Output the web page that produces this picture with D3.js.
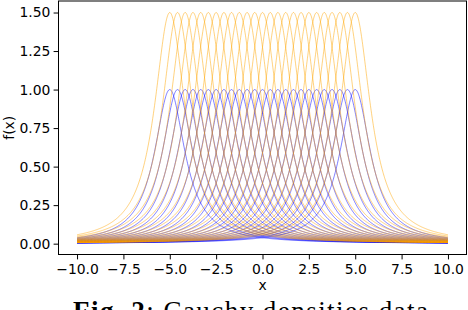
<!DOCTYPE html>
<html>
<head>
<meta charset="utf-8">
<script src="https://cdn.jsdelivr.net/npm/d3@7"></script>
<style>
  html, body { margin: 0; padding: 0; background: #fff; }
  svg { display: block; }
</style>
</head>
<body>
<svg id="chart" width="468" height="310"></svg>
<script>
// ---------------- data ----------------
// Cauchy-type curves f(x) = peak / (1 + ((x - location) / scale)^2)
const locations = [-5.0, -4.58, -4.17, -3.75, -3.33, -2.92, -2.5, -2.08, -1.67, -1.25,
                   -0.83, -0.42, 0.0, 0.42, 0.83, 1.25, 1.67, 2.08, 2.5, 2.92,
                   3.33, 3.75, 4.17, 4.58, 5.0];
const groupNames = ["group A", "group B"];
const groupPeaks = [1.0, 1.5];
const scaleParam = 1.0;
const xRange = [-10, 10];
const sampleCount = 1001;
const xTicks = [-10, -7.5, -5, -2.5, 0, 2.5, 5, 7.5, 10];
const yTicks = [0, 0.25, 0.5, 0.75, 1.0, 1.25, 1.5];
const xLabel = "x";
const yLabel = "f(x)";
const captionBold = "Fig. 2";
const captionRest = ": Cauchy densities data";

// ---------------- styles ----------------
const groupColors = ["#0000ff", "#ffa500"];
const lineOpacity = 0.5;
const font = "'DejaVu Sans', sans-serif";

// ---------------- build curves ----------------
const grid = d3.range(sampleCount).map(i => xRange[0] + (xRange[1] - xRange[0]) * i / (sampleCount - 1));
const curves = [];
groupPeaks.forEach((pk, g) => {
  locations.forEach(loc => {
    curves.push({
      group: g,
      name: groupNames[g],
      pts: grid.map(x => [x, pk / (1 + Math.pow((x - loc) / scaleParam, 2))])
    });
  });
});

// ---------------- layout ----------------
const svg = d3.select("#chart");
const L = 58.5, R = 466.5, T = 1, B = 254.5;

const allY = curves.flatMap(c => c.pts.map(p => p[1]));
const yMin = d3.min(allY), yMax = d3.max(allY);
const xm = (xRange[1] - xRange[0]) * 0.05;
const ym = (yMax - yMin) * 0.05;

const x = d3.scaleLinear().domain([xRange[0] - xm, xRange[1] + xm]).range([L, R]);
const y = d3.scaleLinear().domain([yMin - ym, yMax + ym]).range([B, T]);

const plot = svg.append("g");
plot.append("clipPath").attr("id", "clip")
  .append("rect").attr("x", L).attr("y", T).attr("width", R - L).attr("height", B - T);

const line = d3.line().x(d => x(d[0])).y(d => y(d[1]));
plot.append("g").attr("clip-path", "url(#clip)")
  .selectAll("path").data(curves).join("path")
  .attr("d", d => line(d.pts))
  .attr("fill", "none")
  .attr("stroke", d => groupColors[d.group])
  .attr("stroke-opacity", lineOpacity)
  .attr("stroke-width", 1);

// axes
const xAxis = d3.axisBottom(x).tickValues(xTicks).tickFormat(d3.format(".1f"))
  .tickSize(4.9).tickPadding(5);
const yAxis = d3.axisLeft(y).tickValues(yTicks).tickFormat(d3.format(".2f"))
  .tickSize(4.9).tickPadding(3.3);

const gx = svg.append("g").attr("transform", `translate(0,${B})`).call(xAxis);
const gy = svg.append("g").attr("transform", `translate(${L},0)`).call(yAxis);
[gx, gy].forEach(g => {
  g.select(".domain").remove();
  g.selectAll("line").attr("stroke", "#000").attr("stroke-width", 1);
  g.selectAll("text").attr("font-family", font).attr("font-size", 13.9).attr("fill", "#000");
});

// frame
svg.append("rect").attr("x", L).attr("y", T).attr("width", R - L).attr("height", B - T)
  .attr("fill", "none").attr("stroke", "#000").attr("stroke-width", 1);

// labels
svg.append("text").attr("x", (L + R) / 2).attr("y", 289.5)
  .attr("text-anchor", "middle").attr("font-family", font).attr("font-size", 13.9)
  .text(xLabel);
svg.append("text").attr("transform", `translate(14,${(T + B) / 2}) rotate(-90)`)
  .attr("text-anchor", "middle").attr("font-family", font).attr("font-size", 13.9)
  .text(yLabel);

// caption (partly cut off at the bottom, as in the reference)
const cap = svg.append("text").attr("x", 73).attr("y", 320)
  .attr("font-family", "'Liberation Serif', 'DejaVu Serif', serif").attr("font-size", 27)
  .attr("fill", "#000");
cap.append("tspan").attr("font-weight", "bold").text(captionBold);
cap.append("tspan").text(captionRest);
cap.attr("textLength", 355).attr("lengthAdjust", "spacing");
</script>
</body>
</html>
